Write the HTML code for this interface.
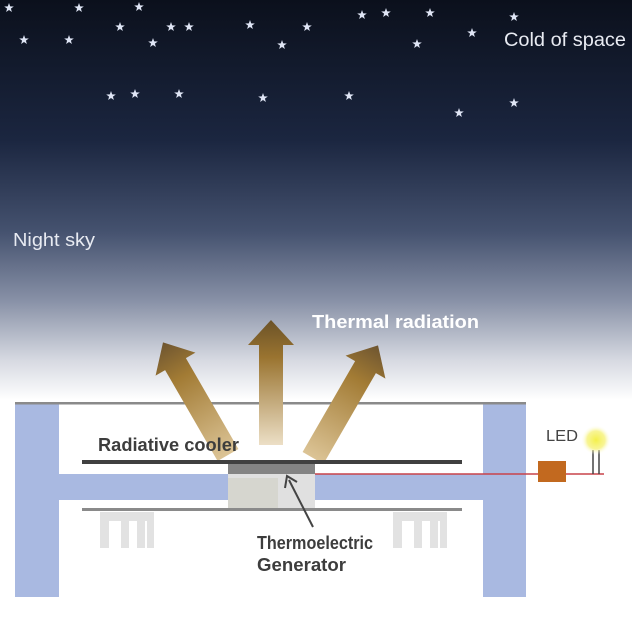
<!DOCTYPE html>
<html><head><meta charset="utf-8"><style>
html,body{margin:0;padding:0;width:632px;height:621px;overflow:hidden;background:#fff}
svg{display:block}
text{font-family:"Liberation Sans",sans-serif}
</style></head><body>
<svg width="632" height="621" viewBox="0 0 632 621" xmlns="http://www.w3.org/2000/svg">
<defs>
<linearGradient id="sky" x1="0" y1="0" x2="0" y2="1">
<stop offset="0" stop-color="#0b101c"/>
<stop offset="0.35" stop-color="#1b2640"/>
<stop offset="0.58" stop-color="#45526f"/>
<stop offset="0.75" stop-color="#8790a6"/>
<stop offset="0.9" stop-color="#d6d9e1"/>
<stop offset="1" stop-color="#ffffff"/>
</linearGradient>
<linearGradient id="arr" x1="0" y1="0" x2="0" y2="1">
<stop offset="0" stop-color="#6b5228"/>
<stop offset="0.3" stop-color="#9a7430"/>
<stop offset="1" stop-color="#ecdfc6"/>
</linearGradient>
<linearGradient id="arrS" x1="0" y1="0" x2="0" y2="1">
<stop offset="0" stop-color="#6e5530"/>
<stop offset="0.3" stop-color="#a27b34"/>
<stop offset="1" stop-color="#dcc496"/>
</linearGradient>
<radialGradient id="glow"><stop offset="0" stop-color="#f4f04a"/><stop offset="0.6" stop-color="#f6f27a" stop-opacity="0.8"/><stop offset="1" stop-color="#fff" stop-opacity="0"/></radialGradient>
<symbol id="st" viewBox="-5 -5 10 10"><polygon points="0,-5 1.2,-1.6 4.8,-1.5 1.9,0.6 2.9,4 0,2 -2.9,4 -1.9,0.6 -4.8,-1.5 -1.2,-1.6" fill="#dfe5f5"/></symbol>
</defs>
<rect x="0" y="0" width="632" height="400" fill="url(#sky)"/>
<g>
<use href="#st" x="4" y="3" width="10" height="10"/>
<use href="#st" x="74" y="3" width="10" height="10"/>
<use href="#st" x="134" y="2" width="10" height="10"/>
<use href="#st" x="19" y="35" width="10" height="10"/>
<use href="#st" x="64" y="35" width="10" height="10"/>
<use href="#st" x="115" y="22" width="10" height="10"/>
<use href="#st" x="148" y="38" width="10" height="10"/>
<use href="#st" x="166" y="22" width="10" height="10"/>
<use href="#st" x="184" y="22" width="10" height="10"/>
<use href="#st" x="245" y="20" width="10" height="10"/>
<use href="#st" x="277" y="40" width="10" height="10"/>
<use href="#st" x="302" y="22" width="10" height="10"/>
<use href="#st" x="357" y="10" width="10" height="10"/>
<use href="#st" x="381" y="8" width="10" height="10"/>
<use href="#st" x="425" y="8" width="10" height="10"/>
<use href="#st" x="412" y="39" width="10" height="10"/>
<use href="#st" x="467" y="28" width="10" height="10"/>
<use href="#st" x="509" y="12" width="10" height="10"/>
<use href="#st" x="106" y="91" width="10" height="10"/>
<use href="#st" x="130" y="89" width="10" height="10"/>
<use href="#st" x="174" y="89" width="10" height="10"/>
<use href="#st" x="258" y="93" width="10" height="10"/>
<use href="#st" x="344" y="91" width="10" height="10"/>
<use href="#st" x="454" y="108" width="10" height="10"/>
<use href="#st" x="509" y="98" width="10" height="10"/>
</g>
<text x="504" y="46" font-size="19" textLength="122" lengthAdjust="spacingAndGlyphs" fill="#e8ebf2">Cold of space</text>
<text x="13" y="246" font-size="18" textLength="82" lengthAdjust="spacingAndGlyphs" fill="#e8ebf2">Night sky</text>
<text x="312" y="328" font-size="18" font-weight="bold" textLength="167" lengthAdjust="spacingAndGlyphs" fill="#fff">Thermal radiation</text>

<rect x="15" y="403" width="44" height="194" fill="#a9b9e1"/>
<rect x="483" y="403" width="43" height="194" fill="#a9b9e1"/>
<rect x="59" y="474" width="170" height="26" fill="#a9b9e1"/>
<rect x="315" y="474" width="168" height="26" fill="#a9b9e1"/>
<rect x="15" y="402" width="511" height="2.5" fill="#8a8a8a"/>

<polygon points="259,445 283,445 283,345 294,345 271,320 248,345 259,345" fill="url(#arr)"/>
<g transform="rotate(-30 228 455)"><polygon points="216,455 240,455 240,350 251,350 228,325 205,350 216,350" fill="url(#arrS)"/></g>
<g transform="rotate(30 313 458)"><polygon points="301,458 325,458 325,353 336,353 313,328 290,353 301,353" fill="url(#arrS)"/></g>

<text x="98" y="451" font-size="18" font-weight="bold" textLength="141" lengthAdjust="spacingAndGlyphs" fill="#3d3d3d">Radiative cooler</text>
<rect x="82" y="460" width="380" height="4" fill="#404040"/>
<rect x="228" y="464" width="87" height="10" fill="#848484"/>
<rect x="228" y="474" width="87" height="34" fill="#e0e0e0"/>
<rect x="228" y="478" width="50" height="30" fill="#d6d6cf"/>
<rect x="82" y="508" width="380" height="3" fill="#8a8a8a"/>
<g fill="#e2e2e2">
<rect x="100" y="512" width="54" height="9"/>
<rect x="100" y="512" width="9" height="36"/>
<rect x="121" y="512" width="8" height="36"/>
<rect x="137" y="512" width="8" height="36"/>
<rect x="147" y="512" width="7" height="36"/>
<rect x="393" y="512" width="54" height="9"/>
<rect x="393" y="512" width="9" height="36"/>
<rect x="414" y="512" width="8" height="36"/>
<rect x="430" y="512" width="8" height="36"/>
<rect x="440" y="512" width="7" height="36"/>
</g>
<line x1="315" y1="474" x2="604" y2="474" stroke="#c9434a" stroke-width="1.5"/>
<rect x="538" y="461" width="28" height="21" fill="#c2691f"/>
<line x1="593" y1="450" x2="593" y2="474" stroke="#444" stroke-width="1.5"/>
<line x1="599" y1="450" x2="599" y2="474" stroke="#444" stroke-width="1.5"/>
<circle cx="596" cy="440" r="15" fill="url(#glow)"/>
<text x="546" y="441" font-size="16" textLength="32" lengthAdjust="spacingAndGlyphs" fill="#444">LED</text>

<line x1="313" y1="527" x2="289" y2="480" stroke="#444" stroke-width="2"/>
<polyline points="285,488 287,476 297,482" fill="none" stroke="#444" stroke-width="2"/>
<text x="257" y="549" font-size="18" font-weight="bold" textLength="116" lengthAdjust="spacingAndGlyphs" fill="#3d3d3d">Thermoelectric</text>
<text x="257" y="571" font-size="18" font-weight="bold" textLength="89" lengthAdjust="spacingAndGlyphs" fill="#3d3d3d">Generator</text>
</svg>
</body></html>
